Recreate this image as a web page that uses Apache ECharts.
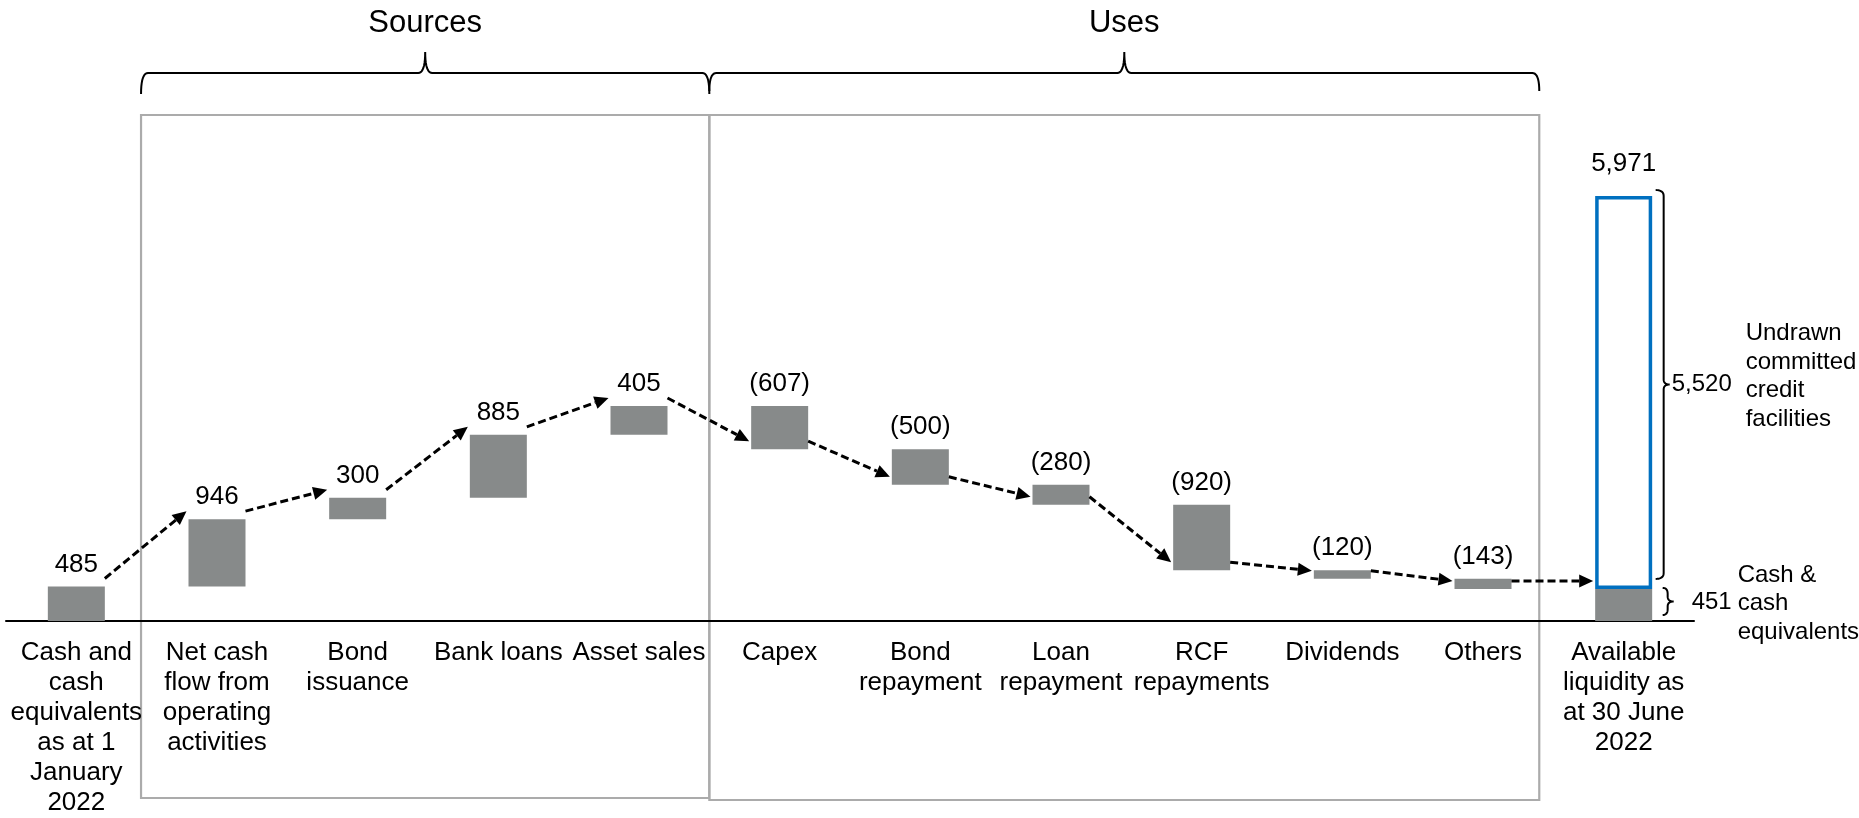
<!DOCTYPE html>
<html>
<head>
<meta charset="utf-8">
<script src="https://cdn.jsdelivr.net/npm/echarts@6/dist/echarts.min.js"></script>
<style>
  html, body { margin: 0; padding: 0; background: #fff; }
  #chart { width: 1859px; height: 818px; }
</style>
</head>
<body>
<div id="chart"></div>
<script>
const categories = [
  'Cash and\ncash\nequivalents\nas at 1\nJanuary\n2022',
  'Net cash\nflow from\noperating\nactivities',
  'Bond\nissuance',
  'Bank loans',
  'Asset sales',
  'Capex',
  'Bond\nrepayment',
  'Loan\nrepayment',
  'RCF\nrepayments',
  'Dividends',
  'Others',
  'Available\nliquidity as\nat 30 June\n2022'
]
// opening cash, then movements (negative = uses)
const flows = [485, 946, 300, 885, 405, -607, -500, -280, -920, -120, -143]
const closingCash = 451
const undrawnFacilities = 5520
const totalLiquidity = 5971
const groupNames = ['Sources', 'Uses']
const groupFrom = [1, 5]
const groupTo = [4, 10]

const FONT = '"Liberation Sans", Arial, Helvetica, sans-serif'
const BAR_W = 57
const GREY = '#878a8a'
const BLUE = '#0070c0'

const last = categories.length - 1
const running = []
flows.forEach((v, i) => running.push((i ? running[i - 1] : 0) + v))
const baseData = flows.map((v, i) => (i === 0 ? 0 : Math.min(running[i - 1], running[i]))).concat([0])
const barData = flows.map(v => Math.abs(v)).concat([closingCash])
const undrawnData = categories.map((c, i) => (i === last ? undrawnFacilities : '-'))
const arrowData = running.map((v, i) => [i, v, i + 1 < running.length ? running[i + 1] : closingCash])

const fmt = v => (v < 0 ? '(' + Math.abs(v).toLocaleString('en-US') + ')' : v.toLocaleString('en-US'))

function renderArrow(params, api) {
  const i = api.value(0)
  const a = api.coord([i, api.value(1)])
  const b = api.coord([i + 1, api.value(2)])
  const x1 = a[0] + BAR_W / 2, y1 = a[1] - 8
  const x2 = b[0] - BAR_W / 2 - 2, y2 = b[1] - 8
  const len = Math.hypot(x2 - x1, y2 - y1)
  const ux = (x2 - x1) / len, uy = (y2 - y1) / len
  const head = 14, hw = 6.5
  const bx = x2 - ux * head, by = y2 - uy * head
  return {
    type: 'group',
    children: [
      { type: 'line', shape: { x1: x1, y1: y1, x2: bx, y2: by }, style: { stroke: '#000', lineWidth: 3, lineDash: [8, 4] } },
      { type: 'polygon', shape: { points: [[x2, y2], [bx - uy * hw, by + ux * hw], [bx + uy * hw, by - ux * hw]] }, style: { fill: '#000' } }
    ]
  }
}

const chart = echarts.init(document.getElementById('chart'))

const option = {
  animation: false,
  grid: { left: 6, right: 165, top: 194, bottom: 197, outerBoundsMode: 'none' },
  xAxis: {
    type: 'category',
    data: categories,
    axisLine: { lineStyle: { color: '#000', width: 2 } },
    axisTick: { show: false },
    axisLabel: { interval: 0, color: '#000', fontSize: 26, lineHeight: 30, margin: 17, fontFamily: FONT }
  },
  yAxis: { type: 'value', min: 0, max: 6000, show: false, splitLine: { show: false } },
  series: [
    {
      name: 'base', type: 'bar', stack: 'w', barWidth: BAR_W, silent: true,
      itemStyle: { color: 'transparent' }, data: baseData
    },
    {
      name: 'movement', type: 'bar', stack: 'w', barWidth: BAR_W,
      itemStyle: { color: GREY },
      label: {
        show: true, position: 'top', distance: 9, color: '#000', fontSize: 26, fontFamily: FONT,
        formatter: p => (p.dataIndex < flows.length ? fmt(flows[p.dataIndex]) : '')
      },
      data: barData
    },
    {
      name: 'undrawn', type: 'bar', stack: 'w', barWidth: BAR_W,
      itemStyle: { color: '#fff', borderColor: BLUE, borderWidth: 3.5 },
      label: {
        show: true, position: 'top', distance: 19, color: '#000', fontSize: 26, fontFamily: FONT,
        formatter: () => fmt(totalLiquidity)
      },
      data: undrawnData
    },
    {
      name: 'arrows', type: 'custom', silent: true, z: 5,
      renderItem: renderArrow,
      encode: { x: 0, y: 1 },
      data: arrowData
    }
  ]
}

chart.setOption(option)

// decorations: group boxes, braces and side notes, placed from the axes
const cx = i => chart.convertToPixel({ xAxisIndex: 0 }, i)
const yy = v => chart.convertToPixel({ yAxisIndex: 0 }, v)
const step = cx(1) - cx(0)
const graphics = []
const edgeLeft = [cx(groupFrom[0]) - 0.54 * step, cx(groupFrom[1]) - 0.5 * step]
const edgeRight = [cx(groupTo[0]) + 0.5 * step, cx(groupTo[1]) + 0.4 * step]

// builds a polyline from [point, control, point, control, point ...] quadratic pieces
function quadPath(pts) {
  const out = [pts[0]]
  for (let k = 1; k + 1 < pts.length; k += 2) {
    const p0 = pts[k - 1], c = pts[k], p1 = pts[k + 1]
    for (let t = 1; t <= 10; t++) {
      const s = t / 10
      out.push([
        (1 - s) * (1 - s) * p0[0] + 2 * (1 - s) * s * c[0] + s * s * p1[0],
        (1 - s) * (1 - s) * p0[1] + 2 * (1 - s) * s * c[1] + s * s * p1[1]
      ])
    }
  }
  return out
}
const stroke = { fill: 'none', stroke: '#000', lineWidth: 2 }

groupNames.forEach((name, g) => {
  const L = edgeLeft[g], R = edgeRight[g], M = (L + R) / 2
  const ly = 73, endY = g === 0 ? 94 : 91
  graphics.push({
    type: 'rect', z: -1,
    shape: { x: L, y: 115, width: R - L, height: 683 + g * 2 },
    style: { fill: 'none', stroke: '#ababab', lineWidth: 2.2 }
  })
  graphics.push({
    type: 'polyline',
    shape: {
      points: quadPath([
        [L, endY], [L, ly], [L + 7, ly], [(L + M) / 2, ly], [M - 7, ly], [M, ly], [M, 52],
        [M, ly], [M + 7, ly], [(M + R) / 2, ly], [R - 7, ly], [R, ly], [R, endY]
      ])
    },
    style: stroke
  })
  graphics.push({
    type: 'text', x: M, y: 23,
    style: { text: name, fill: '#000', fontSize: 31, fontFamily: FONT, align: 'center', verticalAlign: 'middle' }
  })
})

// right-hand braces
const xr = cx(last)
function brace(x0, w, tip, top, bottom) {
  const xv = x0 + w, mid = (top + bottom) / 2
  return quadPath([
    [x0, top], [xv, top], [xv, top + 6], [xv, (top + mid) / 2], [xv, mid - 5], [xv, mid], [xv + tip, mid],
    [xv, mid], [xv, mid + 5], [xv, (mid + bottom) / 2], [xv, bottom - 6], [xv, bottom], [x0, bottom]
  ])
}
const bigTop = yy(totalLiquidity) - 6, bigBottom = yy(closingCash) - 10, bigMid = (bigTop + bigBottom) / 2
const smTop = yy(closingCash) - 1, smBottom = yy(0) - 6, smMid = (smTop + smBottom) / 2
graphics.push({ type: 'polyline', shape: { points: brace(xr + 32, 8, 6, bigTop, bigBottom) }, style: stroke })
graphics.push({ type: 'polyline', shape: { points: brace(xr + 39, 5, 6, smTop, smBottom) }, style: stroke })
const note = (text, x, y) => ({
  type: 'text', x: x, y: y,
  style: { text: text, fill: '#000', fontSize: 24, lineHeight: 28.5, fontFamily: FONT, align: 'left', verticalAlign: 'middle' }
})
graphics.push(note(fmt(undrawnFacilities), xr + 48, bigMid))
graphics.push(note('Undrawn\ncommitted\ncredit\nfacilities', xr + 122, bigMid - 8))
graphics.push(note(fmt(closingCash), xr + 68, smMid + 1))
graphics.push(note('Cash &\ncash\nequivalents', xr + 114, smMid + 2))

chart.setOption({ graphic: graphics })

window.addEventListener('resize', () => chart.resize())
</script>
</body>
</html>
